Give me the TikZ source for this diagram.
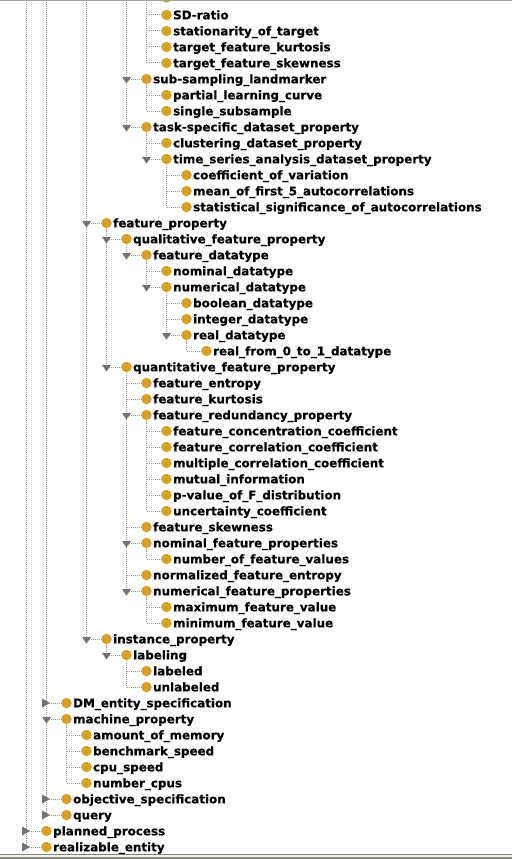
\documentclass[tikz,border=0pt]{standalone}
\usepackage{fontspec}
\setmainfont{DejaVu Sans}[BoldFeatures={FakeBold=0.5}]
\definecolor{icogold}{RGB}{212,162,44}
\definecolor{treegray}{RGB}{150,150,150}
\definecolor{trigray}{RGB}{115,115,115}
\definecolor{bordA}{RGB}{128,128,120}
\definecolor{bordB}{RGB}{244,244,236}
\definecolor{bordC}{RGB}{140,140,132}
\definecolor{bordT}{RGB}{160,160,160}
\tikzset{
  ico/.style={circle,fill=icogold,minimum size=10.5pt,inner sep=0pt,draw=none},
  lbl/.style={anchor=base west,inner sep=0pt,font=\fontsize{11.9}{12}\selectfont\bfseries},
  tree/.style={treegray,line width=1pt,dash pattern=on 1pt off 1pt},
}
% #1 name, #2 level, #3 row, #4 parent, #5 text
\newcommand\ent[5]{%
  \node[ico] (#1) at ({46.5+20*#2},{15+16*#3}) {};
  \node[lbl] (#1-t) at ([xshift=1pt,yshift=-4.3pt]#1.east) {#5};
  \draw[tree] (#4 |- #1.center) -- (#1.west);}
\newcommand\dn[1]{\fill[trigray] ([xshift=-24.5pt,yshift=2pt]#1.center) -- ++(9pt,0pt) -- ++(-4.5pt,-6.5pt) -- cycle;}
\newcommand\rt[1]{\fill[trigray] ([xshift=-24.5pt,yshift=4.5pt]#1.center) -- ++(0pt,-9pt) -- ++(8pt,4.5pt) -- cycle;}
\newcommand\vl[2]{\draw[tree] ([yshift=-1pt]#1.south) -- (#1 |- #2.center);}
\begin{document}
\begin{tikzpicture}[x=1pt,y=-1pt]
\useasboundingbox (0,0) rectangle (512,859);
\clip (0,0) rectangle (512,859);
\fill[white] (0,0) rectangle (512,859);
% hidden ancestors above the visible area
\coordinate (A5) at (146.5,-50);
\coordinate (A4) at (126.5,-60);
\coordinate (A2) at (86.5,-80);
\coordinate (A0) at (46.5,-100);
\coordinate (Am) at (26.5,-120);
\node[ico] (h0) at (166.5,-2.6) {};
\draw[tree] (A5 |- h0.center) -- (h0.west);
% rows
\ent{sdr}{6}{0}{A5}{SD-ratio}
\ent{sot}{6}{1}{A5}{stationarity\_of\_target}
\ent{tfk}{6}{2}{A5}{target\_feature\_kurtosis}
\ent{tfs}{6}{3}{A5}{target\_feature\_skewness}
\ent{ssl}{5}{4}{A4}{sub-sampling\_landmarker}
\ent{plc}{6}{5}{ssl}{partial\_learning\_curve}
\ent{sss}{6}{6}{ssl}{single\_subsample}
\ent{tsd}{5}{7}{A4}{task-specific\_dataset\_property}
\ent{cdp}{6}{8}{tsd}{clustering\_dataset\_property}
\ent{tsa}{6}{9}{tsd}{time\_series\_analysis\_dataset\_property}
\ent{cov}{7}{10}{tsa}{coefficient\_of\_variation}
\ent{mfa}{7}{11}{tsa}{mean\_of\_first\_5\_autocorrelations}
\ent{ssa}{7}{12}{tsa}{statistical\_significance\_of\_autocorrelations}
\ent{fp}{3}{13}{A2}{feature\_property}
\ent{qlf}{4}{14}{fp}{qualitative\_feature\_property}
\ent{fdt}{5}{15}{qlf}{feature\_datatype}
\ent{nod}{6}{16}{fdt}{nominal\_datatype}
\ent{nud}{6}{17}{fdt}{numerical\_datatype}
\ent{bod}{7}{18}{nud}{boolean\_datatype}
\ent{ind}{7}{19}{nud}{integer\_datatype}
\ent{red}{7}{20}{nud}{real\_datatype}
\ent{rfd}{8}{21}{red}{real\_from\_0\_to\_1\_datatype}
\ent{qnf}{4}{22}{fp}{quantitative\_feature\_property}
\ent{fen}{5}{23}{qnf}{feature\_entropy}
\ent{fku}{5}{24}{qnf}{feature\_kurtosis}
\ent{frp}{5}{25}{qnf}{feature\_redundancy\_property}
\ent{fcc}{6}{26}{frp}{feature\_concentration\_coefficient}
\ent{fco}{6}{27}{frp}{feature\_correlation\_coefficient}
\ent{mcc}{6}{28}{frp}{multiple\_correlation\_coefficient}
\ent{mui}{6}{29}{frp}{mutual\_information}
\ent{pvf}{6}{30}{frp}{p-value\_of\_F\_distribution}
\ent{unc}{6}{31}{frp}{uncertainty\_coefficient}
\ent{fsk}{5}{32}{qnf}{feature\_skewness}
\ent{nfp}{5}{33}{qnf}{nominal\_feature\_properties}
\ent{nfv}{6}{34}{nfp}{number\_of\_feature\_values}
\ent{nfe}{5}{35}{qnf}{normalized\_feature\_entropy}
\ent{mfp}{5}{36}{qnf}{numerical\_feature\_properties}
\ent{mxv}{6}{37}{mfp}{maximum\_feature\_value}
\ent{mnv}{6}{38}{mfp}{minimum\_feature\_value}
\ent{inp}{3}{39}{A2}{instance\_property}
\ent{lab}{4}{40}{inp}{labeling}
\ent{lbd}{5}{41}{lab}{labeled}
\ent{ulb}{5}{42}{lab}{unlabeled}
\ent{dme}{1}{43}{A0}{DM\_entity\_specification}
\ent{mp}{1}{44}{A0}{machine\_property}
\ent{aom}{2}{45}{mp}{amount\_of\_memory}
\ent{bms}{2}{46}{mp}{benchmark\_speed}
\ent{cpu}{2}{47}{mp}{cpu\_speed}
\ent{ncp}{2}{48}{mp}{number\_cpus}
\ent{obj}{1}{49}{A0}{objective\_specification}
\ent{qry}{1}{50}{A0}{query}
\ent{ppr}{0}{51}{Am}{planned\_process}
\ent{ren}{0}{52}{Am}{realizable\_entity}
% vertical tree lines
\draw[tree] (Am) -- (Am |- ren.center);
\draw[tree] (A0) -- (A0 |- qry.center);
\draw[tree] (A2) -- (A2 |- inp.center);
\draw[tree] (A4) -- (A4 |- tsd.center);
\draw[tree] (A5) -- (A5 |- tfs.center);
\vl{ssl}{sss}
\vl{tsd}{tsa}
\vl{tsa}{ssa}
\vl{fp}{qnf}
\vl{qlf}{fdt}
\vl{fdt}{nud}
\vl{nud}{red}
\vl{red}{rfd}
\vl{qnf}{mfp}
\vl{frp}{unc}
\vl{nfp}{nfv}
\vl{mfp}{mnv}
\vl{inp}{lab}
\vl{lab}{ulb}
\vl{mp}{ncp}
% expand / collapse handles
\dn{ssl}\dn{tsd}\dn{tsa}\dn{fp}\dn{qlf}\dn{fdt}\dn{nud}\dn{red}\dn{qnf}
\dn{frp}\dn{nfp}\dn{mfp}\dn{inp}\dn{lab}\dn{mp}
\rt{dme}\rt{obj}\rt{qry}\rt{ppr}\rt{ren}
% borders
\fill[bordT] (0,0) rectangle (512,1);
\fill[bordA] (0,853.5) rectangle (512,854.5);
\fill[bordB] (0,854.5) rectangle (512,857.3);
\fill[bordC] (0,857.3) rectangle (512,859);
\end{tikzpicture}
\end{document}
